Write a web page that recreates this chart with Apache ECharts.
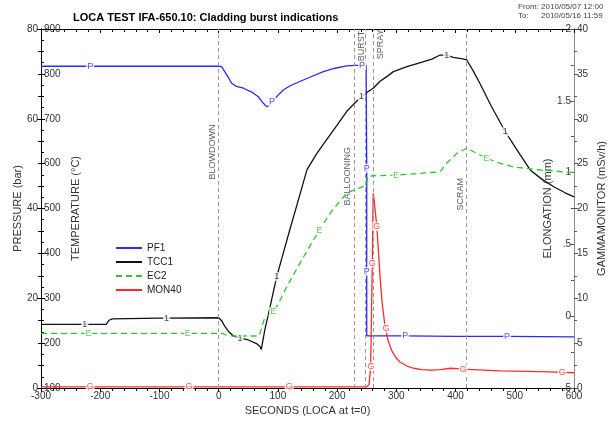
<!DOCTYPE html>
<html>
<head>
<meta charset="utf-8">
<script src="https://cdn.jsdelivr.net/npm/echarts@6.0.0/dist/echarts.min.js"></script>
<style>
  html, body { margin: 0; padding: 0; background: #fff; }
  #chart { width: 614px; height: 421px; }
</style>
</head>
<body>
<div id="chart"></div>
<script>
// PF1 pressure (bar)
let pf1T = [-300, -217, 0, 5, 15, 22, 30, 42, 55, 67, 75, 81, 86, 90, 100, 109, 120, 137, 155, 177, 195, 216, 230, 242, 249, 250, 250, 250, 250, 315, 400, 487, 600]
let pf1V = [71.7, 71.7, 71.7, 71.6, 69.5, 67.9, 67.2, 66.8, 66.0, 64.9, 63.5, 62.7, 63.0, 63.8, 65.2, 66.4, 67.3, 68.3, 69.3, 70.5, 71.2, 71.8, 71.9, 71.9, 71.9, 49, 26, 11.6, 11.6, 11.6, 11.5, 11.5, 11.4]
let pf1Marks = [[-217, 71.7], [90, 63.8], [242, 71.9], [250, 49], [250, 26], [315, 11.6], [487, 11.5]]

// TCC1 temperature (°C)
let tcc1T = [-300, -226, -190, -185, -180, -100, -88, 0, 5, 11, 18, 25, 36, 50, 64, 70, 72, 78, 85, 98, 110, 120, 135, 149, 165, 182, 200, 216, 230, 241, 252, 261, 272, 285, 295, 318, 345, 360, 374, 385, 396, 410, 419, 430, 441, 460, 484, 505, 526, 545, 565, 585, 600]
let tcc1V = [242, 242, 242, 251, 254, 255.5, 255.5, 256.5, 250, 236, 224, 216, 211, 207, 199, 192, 186, 230, 270, 348, 405, 452, 521, 586, 621, 653, 686, 716, 735, 749, 760, 768, 783, 795, 805, 816, 827, 833, 842, 842, 837, 834, 831, 806, 779, 729, 671, 628, 586, 566, 549, 535, 526]
let tcc1Marks = [[-226, 242], [-88, 255.5], [36, 211], [98, 348], [241, 749], [385, 842], [484, 671]]

// EC2 elongation (mm)
let ec2T = [-300, -220, -52, 0, 6, 12, 24, 68, 72, 77, 85, 92, 100, 115, 137, 160, 188, 216, 235, 249, 252, 260, 300, 340, 374, 385, 402, 419, 436, 452, 475, 497, 543, 600]
let ec2V = [-0.119, -0.119, -0.119, -0.119, -0.12, -0.13, -0.138, -0.138, -0.09, -0.02, 0.01, 0.031, 0.08, 0.205, 0.368, 0.53, 0.717, 0.856, 0.89, 0.91, 0.972, 0.978, 0.983, 0.995, 1.006, 1.065, 1.134, 1.17, 1.134, 1.1, 1.065, 1.04, 1.018, 1.0]
let ec2Marks = [[-220, -0.119], [-52, -0.119], [92, 0.031], [170, 0.6], [300, 0.983], [452, 1.1]]

// MON40 gamma monitor (mSv/h)
let mon40T = [-300, -217, -50, 119, 250, 254, 256.7, 258, 259.5, 260.5, 261, 262, 264, 267, 270, 272.5, 276, 281, 286, 292, 299, 306, 318, 329, 343, 357, 375, 391, 413, 430, 475, 520, 560, 580, 600]
let mon40V = [0.12, 0.12, 0.12, 0.12, 0.12, 0.4, 2.4, 8, 13.9, 20, 21.7, 21.3, 20, 18, 15, 12.4, 9.5, 6.8, 5.3, 4.2, 3.4, 2.9, 2.45, 2.2, 2.05, 2.0, 2.05, 2.2, 2.1, 2.05, 1.9, 1.85, 1.8, 1.75, 1.7]
let mon40Marks = [[-217, 0.12], [-50, 0.12], [119, 0.12], [256.7, 2.4], [259.5, 13.9], [267, 18], [282.6, 6.65], [413, 2.1], [580, 1.75]]

// event lines (s) and their labels
let eventLines = [0, 229, 247, 261, 418]
let eventNames = ['BLOWDOWN', 'BALLOONING', 'BURST', 'SPRAY', 'SCRAM']
let eventLabelT = [-9.6, 218.4, 241.5, 274, 409.2]
let eventLabelTemp = [626, 572, 862, 866, 532]

let tickFont = { fontFamily: 'Liberation Sans', fontSize: 10, color: '#333' }
let nameFont = { fontFamily: 'Liberation Sans', fontSize: 11, color: '#333' }

function pairs(t, v) {
	return t.map(function (x, i) { return [x, v[i]] })
}

function markSeries(marks, letter, color, yIndex) {
	return {
		type: 'scatter',
		yAxisIndex: yIndex,
		symbolSize: 0.1,
		itemStyle: { color: 'rgba(0,0,0,0)' },
		silent: true,
		z: 5,
		label: {
			show: true,
			position: 'inside',
			formatter: letter,
			color: color,
			fontFamily: 'Liberation Sans',
			fontSize: 9,
			backgroundColor: '#fff',
			padding: [0, 1],
			lineHeight: 9
		},
		data: marks
	}
}

let myChart = echarts.init(document.getElementById('chart'))
let option = {
	animation: false,
	title: {
		text: 'LOCA TEST IFA-650.10: Cladding burst indications',
		left: 68,
		top: 7,
		textStyle: { fontFamily: 'Liberation Sans', fontSize: 11, fontWeight: 'bold', color: '#000' }
	},
	graphic: [
		{ type: 'text', left: 518, top: 3, style: { text: 'From: 2010/05/07 12:00', font: '8px Liberation Sans', fill: '#444' } },
		{ type: 'text', left: 518, top: 12, style: { text: 'To:', font: '8px Liberation Sans', fill: '#444' } },
		{ type: 'text', left: 541, top: 12, style: { text: '2010/05/16 11:59', font: '8px Liberation Sans', fill: '#444' } }
	],
	legend: {
		orient: 'vertical',
		left: 110,
		top: 238,
		itemWidth: 26,
		itemHeight: 10,
		itemGap: 4,
		itemStyle: { opacity: 0 },
		textStyle: { fontFamily: 'Liberation Sans', fontSize: 10, color: '#222' },
		data: ['PF1', 'TCC1', 'EC2', 'MON40']
	},
	grid: { left: 41, right: 40, top: 29, bottom: 33, outerBoundsMode: 'none' },
	xAxis: [
		{
			type: 'value', min: -300, max: 600, interval: 100,
			name: 'SECONDS (LOCA at t=0)', nameLocation: 'middle', nameGap: 16, nameTextStyle: nameFont,
			axisLine: { onZero: false, lineStyle: { color: '#000' } },
			axisTick: { length: 4, lineStyle: { color: '#000' } },
			minorTick: { show: true, splitNumber: 5, length: 3, lineStyle: { color: '#000' } },
			axisLabel: Object.assign({ margin: 3 }, tickFont),
			splitLine: { show: false }
		},
		{
			type: 'value', position: 'top', min: -300, max: 600, interval: 100,
			axisLine: { onZero: false, lineStyle: { color: '#000' } },
			axisTick: { inside: true, length: 4, lineStyle: { color: '#000' } },
			minorTick: { show: true, splitNumber: 5, length: 3, lineStyle: { color: '#000' } },
			axisLabel: { show: false },
			splitLine: { show: false }
		}
	],
	yAxis: [
		{
			type: 'value', position: 'left', min: 0, max: 80, interval: 20,
			name: 'PRESSURE (bar)', nameLocation: 'middle', nameGap: 18, nameRotate: 90, nameTextStyle: nameFont,
			nameMoveOverlap: false,
			axisLine: { show: true, onZero: false, lineStyle: { color: '#000' } },
			axisTick: { show: true, length: 4, lineStyle: { color: '#000' } },
			minorTick: { show: true, splitNumber: 4, length: 3, lineStyle: { color: '#000' } },
			axisLabel: Object.assign({ margin: 3 }, tickFont),
			splitLine: { show: false }
		},
		{
			type: 'value', position: 'left', min: 100, max: 900, interval: 100,
			name: 'TEMPERATURE (°C)', nameLocation: 'middle', nameGap: -40, nameRotate: 90, nameTextStyle: nameFont,
			nameMoveOverlap: false,
			axisLine: { show: true, onZero: false, lineStyle: { color: '#000' } },
			axisTick: { show: true, inside: true, length: 4, lineStyle: { color: '#000' } },
			minorTick: { show: true, splitNumber: 4, length: 3, lineStyle: { color: '#000' } },
			axisLabel: Object.assign({ inside: true, margin: 3 }, tickFont),
			splitLine: { show: false }
		},
		{
			type: 'value', position: 'right', min: -0.5, max: 2, interval: 0.5,
			name: 'ELONGATION (mm)', nameLocation: 'middle', nameGap: -32, nameRotate: 90, nameTextStyle: nameFont,
			nameMoveOverlap: false,
			axisLine: { show: true, onZero: false, lineStyle: { color: '#888' } },
			axisTick: { show: true, inside: true, length: 4, lineStyle: { color: '#555' } },
			minorTick: { show: true, splitNumber: 2, length: 3, lineStyle: { color: '#555' } },
			axisLabel: Object.assign({
				inside: true, margin: 3,
				formatter: function (v) { return String(v).replace(/^(-?)0\./, '$1.') }
			}, tickFont),
			splitLine: { show: false }
		},
		{
			type: 'value', position: 'right', min: 0, max: 40, interval: 5,
			name: 'GAMMAMONITOR (mSv/h)', nameLocation: 'middle', nameGap: 22, nameRotate: 90, nameTextStyle: nameFont,
			nameMoveOverlap: false,
			axisLine: { show: true, onZero: false, lineStyle: { color: '#888' } },
			axisTick: { show: true, length: 4, lineStyle: { color: '#555' } },
			minorTick: { show: true, splitNumber: 2, length: 3, lineStyle: { color: '#555' } },
			axisLabel: Object.assign({ margin: 3 }, tickFont),
			splitLine: { show: false }
		}
	],
	series: [
		{
			name: 'PF1', type: 'line', yAxisIndex: 0, showSymbol: false, symbol: 'none',
			color: '#2a2aff', lineStyle: { width: 1.3 },
			data: pairs(pf1T, pf1V), z: 3
		},
		{
			name: 'TCC1', type: 'line', yAxisIndex: 1, showSymbol: false, symbol: 'none',
			color: '#111', lineStyle: { width: 1.3 },
			data: pairs(tcc1T, tcc1V), z: 3,
			markLine: {
				silent: true, symbol: 'none', animation: false,
				label: { show: false },
				lineStyle: { color: '#999', type: [4, 3], width: 1 },
				data: eventLines.map(function (t) { return { xAxis: t } })
			}
		},
		{
			name: 'EC2', type: 'line', yAxisIndex: 2, showSymbol: false, symbol: 'none',
			color: '#2ec82e', lineStyle: { width: 1.3, type: [6, 4] },
			data: pairs(ec2T, ec2V), z: 3
		},
		{
			name: 'MON40', type: 'line', yAxisIndex: 3, showSymbol: false, symbol: 'none',
			color: '#ff2a2a', lineStyle: { width: 1.3 },
			data: pairs(mon40T, mon40V), z: 3
		},
		markSeries(pf1Marks, 'P', '#2a2aff', 0),
		markSeries(tcc1Marks, '1', '#111', 1),
		markSeries(ec2Marks, 'E', '#2ec82e', 2),
		markSeries(mon40Marks, 'G', '#ff2a2a', 3),
		{
			type: 'scatter', yAxisIndex: 1, symbolSize: 0.1, silent: true,
			itemStyle: { color: 'rgba(0,0,0,0)' },
			label: {
				show: true, position: 'inside', rotate: 90,
				formatter: function (p) { return p.name },
				fontFamily: 'Liberation Sans', fontSize: 9, color: '#333'
			},
			data: eventNames.map(function (n, i) { return { name: n, value: [eventLabelT[i], eventLabelTemp[i]] } })
		}
	]
}
myChart.setOption(option)
</script>
</body>
</html>
